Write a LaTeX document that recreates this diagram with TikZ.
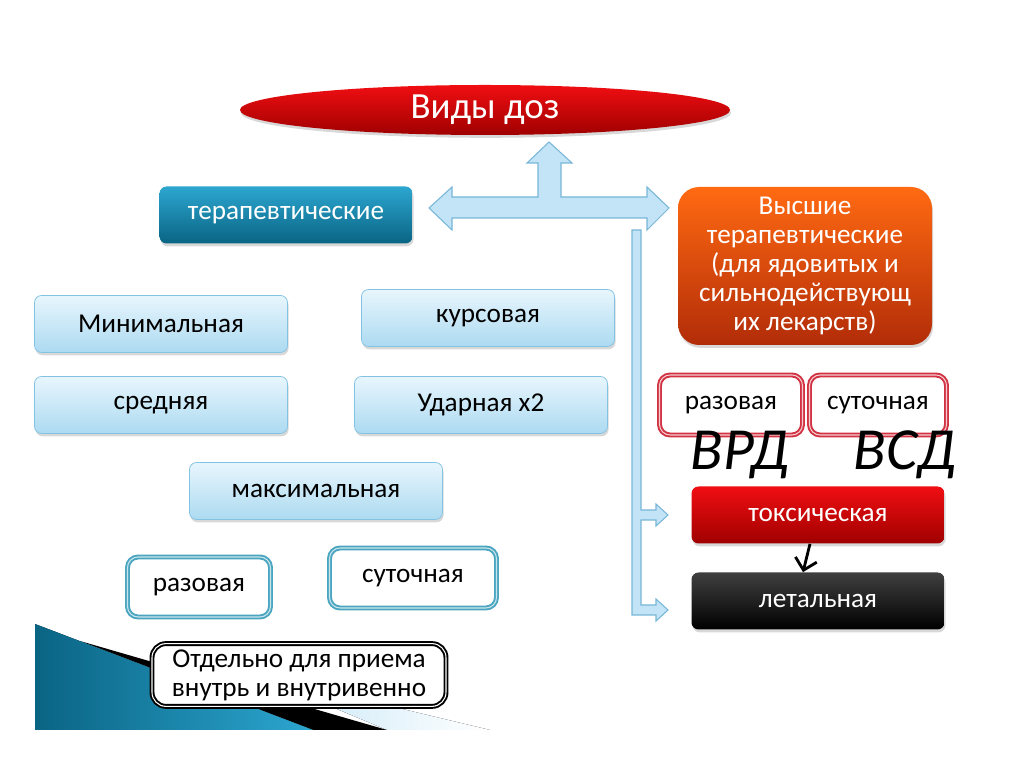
\documentclass[tikz,border=0pt]{standalone}
\usepackage{fontspec}
\setmainfont{Carlito}
\usepackage{tikz}
\usetikzlibrary{arrows.meta,shapes.geometric,shadows}
\definecolor{dzred}{RGB}{240,14,18}
\definecolor{dzdarkred}{RGB}{160,0,0}
\definecolor{dzltop}{RGB}{232,246,253}
\definecolor{dzlbot}{RGB}{172,218,241}
\definecolor{dzledge}{RGB}{130,194,226}
\definecolor{dztealtop}{RGB}{44,166,208}
\definecolor{dztealbot}{RGB}{10,100,132}
\definecolor{dzortop}{RGB}{255,106,18}
\definecolor{dzorbot}{RGB}{178,44,8}
\definecolor{dzring}{RGB}{74,166,192}
\definecolor{dzredring}{RGB}{210,50,66}
\definecolor{dzarrow}{RGB}{194,228,246}
\definecolor{dzarrowedge}{RGB}{120,182,216}
\newcommand{\dzfs}{\fontsize{15.5}{16.5}\selectfont}
\tikzset{
  dzbox/.style={rounded corners=4pt, align=center, inner sep=3pt, font=\dzfs,
    minimum width=5.06cm, minimum height=1.14cm,
    drop shadow={shadow xshift=0.6pt, shadow yshift=-1.6pt, opacity=0.3}},
  dzlight/.style={dzbox, draw=dzledge, top color=dzltop, bottom color=dzlbot},
  dzteal/.style={dzbox, top color=dztealtop, bottom color=dztealbot, text=white},
  dzorange/.style={dzbox, rounded corners=12pt, top color=dzortop, bottom color=dzorbot, text=white},
  dztox/.style={dzbox, top color=dzred, bottom color=dzdarkred, text=white},
  dzlet/.style={dzbox, top color=black!75, bottom color=black, text=white},
  dzring/.style={rounded corners=6pt, align=center, font=\dzfs, fill=white,
    draw=dzring, double=dzring!30, double distance=0.6pt, line width=1.1pt,
    minimum width=2.86cm, minimum height=1.2cm},
  dzredring/.style={dzring, draw=dzredring, double=dzredring!25},
  dzhand/.style={font=\fontsize{34}{34}\selectfont\itshape, inner sep=0pt},
  dzblock/.style={fill=dzarrow, draw=dzarrowedge, line width=0.6pt, line join=miter}
}
\begin{document}
\begin{tikzpicture}
  \useasboundingbox (0,0) rectangle (20.48cm,-15.34cm);
  \fill[white] (0,0) rectangle (20.48cm,-15.34cm);
  \fill[left color=dzarrow, right color=white] (5.00cm,-13.45cm) -- (9.80cm,-14.60cm) -- (7.74cm,-14.60cm) -- cycle;
  \fill[black] (1.60cm,-12.82cm) -- (7.74cm,-14.60cm) -- (6.26cm,-14.60cm) -- cycle;
  \fill[left color=dztealbot, right color=dztealtop] (0.70cm,-12.48cm) -- (6.26cm,-14.60cm) -- (0.70cm,-14.60cm) -- cycle;
  \node[ellipse, top color=dzred, bottom color=dzdarkred, text=white, minimum width=9.8cm, minimum height=1.0cm,
    inner sep=0pt, font=\fontsize{21}{21}\selectfont,
    drop shadow={shadow xshift=0.6pt, shadow yshift=-1.6pt, opacity=0.3}] (dzTitle) at (9.70cm,-2.20cm) {Виды доз};
  \node[dzteal] (dzTher) at (5.72cm,-4.30cm) {терапевтические};
  \node[dzorange, minimum width=5.08cm, minimum height=3.16cm] (dzHigh) at (16.10cm,-5.32cm) {Высшие\\терапевтические\\(для ядовитых и\\сильнодействующ\\их лекарств)};
  \node[dzlight] (dzMin) at (3.22cm,-6.48cm) {Минимальная};
  \node[dzlight] (dzKurs) at (9.76cm,-6.36cm) {курсовая};
  \node[dzlight] (dzSred) at (3.22cm,-8.10cm) {средняя};
  \node[dzlight] (dzUdar) at (9.62cm,-8.10cm) {Ударная х2};
  \node[dzlight] (dzMax) at (6.32cm,-9.82cm) {максимальная};
  \node[dzring] (dzRaz) at (3.98cm,-11.74cm) {разовая};
  \node[dzring, minimum width=3.34cm] (dzSut) at (8.26cm,-11.56cm) {суточная};
  \node[dzring, draw=black, double=white, minimum width=5.88cm, rounded corners=8pt] (dzSep) at (5.98cm,-13.50cm) {Отдельно для приема\\внутрь и внутривенно};
  \node[dzredring] (dzHRaz) at (14.62cm,-8.10cm) {разовая};
  \node[dzredring, minimum width=2.74cm] (dzHSut) at (17.56cm,-8.10cm) {суточная};
  \node[dzhand] (dzVrd) at (14.80cm,-9.10cm) {ВРД};
  \node[dzhand] (dzVsd) at (18.10cm,-9.10cm) {ВСД};
  \node[dztox] (dzTox) at (16.36cm,-10.30cm) {токсическая};
  \node[dzlet] (dzLet) at (16.36cm,-12.02cm) {летальная};
  \draw[dzblock] (8.58cm,-4.16cm) -- (9.04cm,-3.74cm) -- (9.04cm,-3.94cm) -- (10.76cm,-3.94cm) -- (10.76cm,-3.26cm)
    -- (10.54cm,-3.26cm) -- (10.98cm,-2.84cm) -- (11.44cm,-3.26cm) -- (11.22cm,-3.26cm) -- (11.22cm,-3.94cm)
    -- (12.94cm,-3.94cm) -- (12.94cm,-3.74cm) -- (13.38cm,-4.16cm) -- (12.94cm,-4.60cm) -- (12.94cm,-4.36cm)
    -- (9.04cm,-4.36cm) -- (9.04cm,-4.60cm) -- cycle;
  \draw[dzblock] (12.64cm,-4.60cm) -- (12.82cm,-4.60cm) -- (12.82cm,-10.20cm) -- (13.12cm,-10.20cm) -- (13.12cm,-10.08cm)
    -- (13.36cm,-10.30cm) -- (13.12cm,-10.52cm) -- (13.12cm,-10.40cm) -- (12.82cm,-10.40cm) -- (12.82cm,-12.10cm)
    -- (13.12cm,-12.10cm) -- (13.12cm,-11.98cm) -- (13.36cm,-12.20cm) -- (13.12cm,-12.42cm) -- (13.12cm,-12.30cm)
    -- (12.64cm,-12.30cm) -- cycle;
  \draw[line width=1.6pt, -{Straight Barb[length=2.2mm]}] ([xshift=-0.16cm]dzTox.south) -- ([xshift=-0.30cm]dzLet.north);
\end{tikzpicture}
\end{document}
